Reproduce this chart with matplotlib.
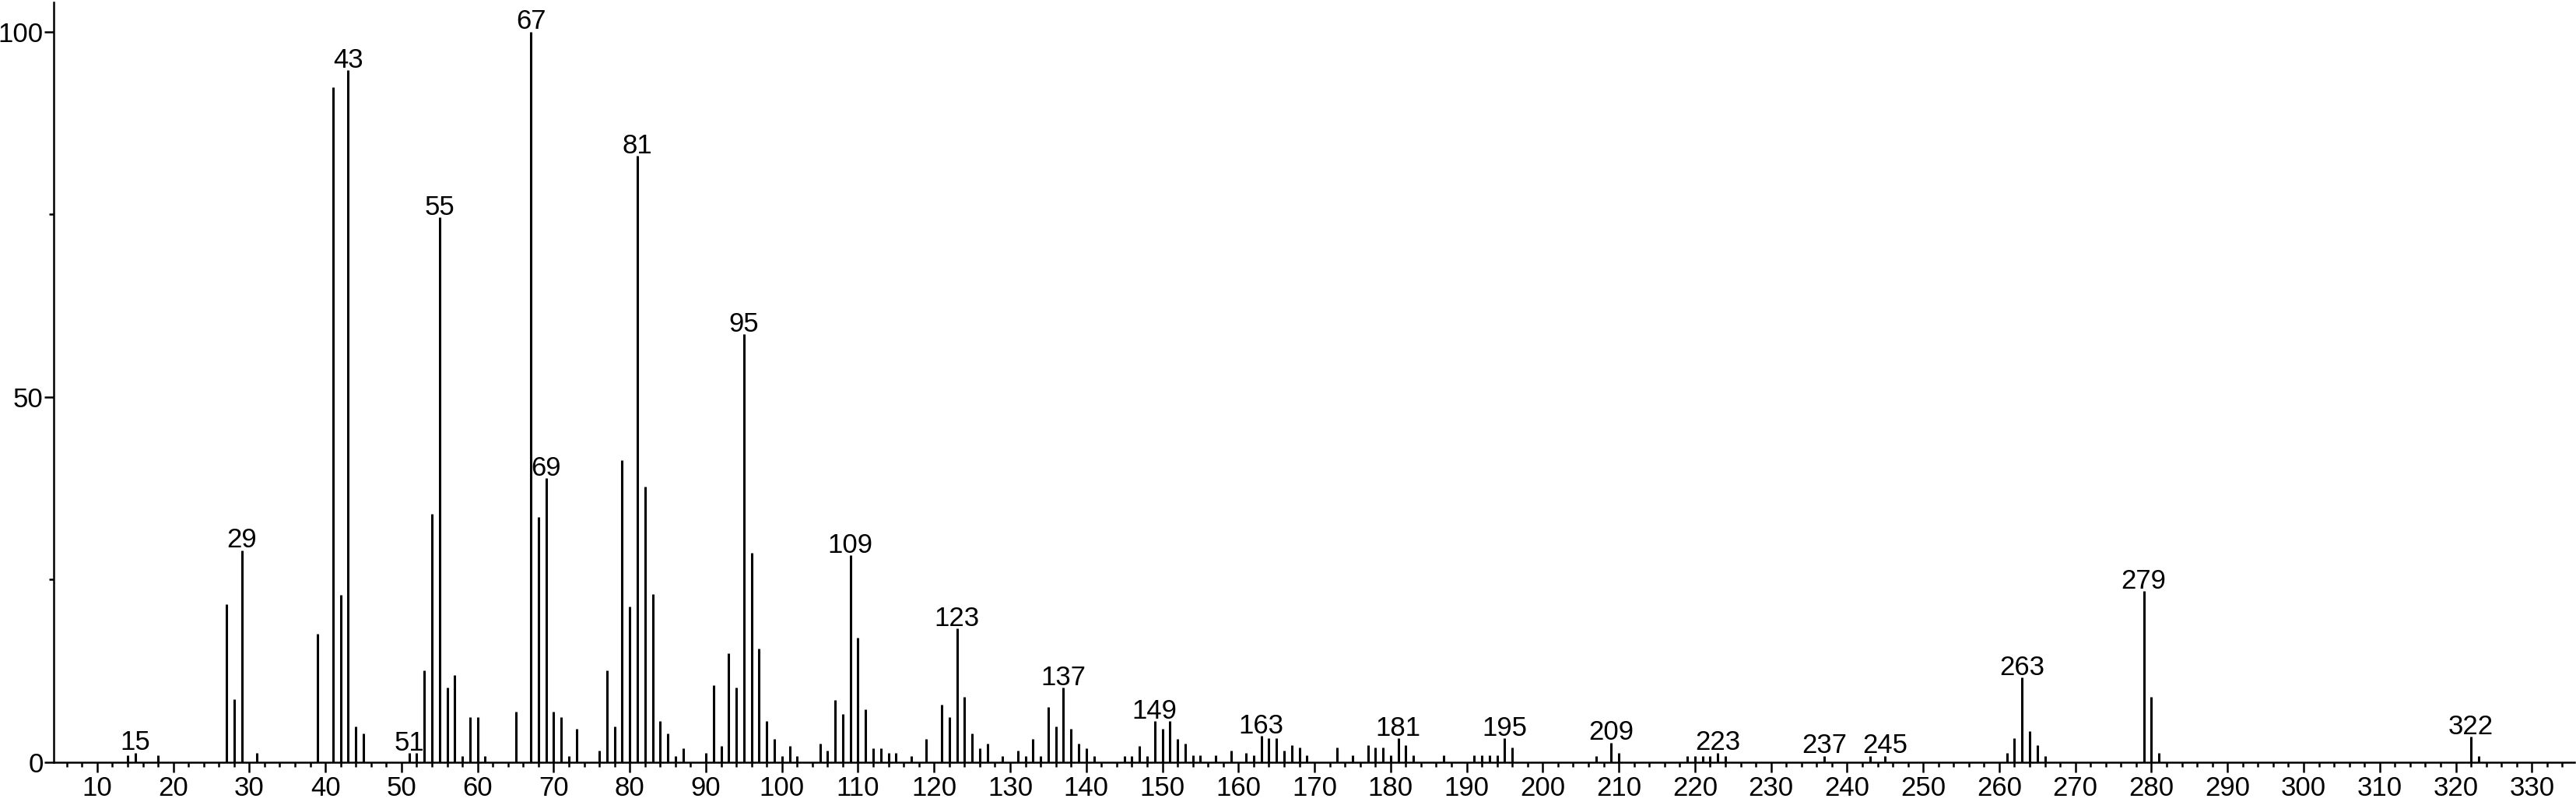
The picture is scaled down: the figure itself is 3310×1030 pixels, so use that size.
import matplotlib
matplotlib.use("Agg")
import matplotlib.pyplot as plt
from matplotlib.ticker import MultipleLocator, FixedLocator

plt.rcParams['font.family'] = ['Liberation Sans', 'DejaVu Sans']

mz = [14, 15, 18, 27, 28, 29, 31, 39, 41, 42, 43, 44, 45, 51, 52, 53, 54, 55, 56, 57,
      58, 59, 60, 61, 65, 67, 68, 69, 70, 71, 72, 73, 76, 77, 78, 79, 80, 81, 82, 83,
      84, 85, 86, 87, 90, 91, 92, 93, 94, 95, 96, 97, 98, 99, 100, 101, 102, 105, 106, 107,
      108, 109, 110, 111, 112, 113, 114, 115, 117, 119, 121, 122, 123, 124, 125, 126, 127, 129, 131, 132,
      133, 134, 135, 136, 137, 138, 139, 140, 141, 145, 146, 147, 148, 149, 150, 151, 152, 153, 154, 155,
      157, 159, 161, 162, 163, 164, 165, 166, 167, 168, 169, 173, 175, 177, 178, 179, 180, 181, 182, 183,
      187, 191, 192, 193, 194, 195, 196, 207, 209, 210, 219, 220, 221, 222, 223, 224, 237, 243, 245, 261,
      262, 263, 264, 265, 266, 279, 280, 281, 322, 323]
intensity = [1.0, 1.3, 1.0, 21.6, 8.6, 29.0, 1.3, 17.6, 92.4, 22.9, 94.7, 4.9, 3.9, 1.25, 1.25, 12.6, 34.0, 74.6, 10.2, 11.9,
             0.9, 6.2, 6.2, 0.9, 6.9, 100.0, 33.6, 38.9, 6.9, 6.2, 0.9, 4.6, 1.6, 12.6, 4.9, 41.3, 21.3, 83.0, 37.7, 23.0,
             5.6, 3.9, 0.9, 1.9, 1.25, 10.6, 2.2, 14.9, 10.2, 58.6, 28.7, 15.6, 5.6, 3.2, 0.9, 2.2, 0.9, 2.6, 1.6, 8.5,
             6.6, 28.3, 17.0, 7.2, 1.9, 1.9, 1.25, 1.25, 0.9, 3.2, 7.9, 6.2, 18.3, 8.9, 3.9, 1.9, 2.6, 0.9, 1.6, 0.9,
             3.2, 0.9, 7.6, 4.9, 10.2, 4.6, 2.6, 1.9, 0.9, 0.9, 0.9, 2.2, 0.9, 5.6, 4.6, 5.6, 3.2, 2.6, 1.0, 1.0,
             1.0, 1.6, 1.3, 1.0, 3.6, 3.3, 3.3, 1.6, 2.3, 2.0, 1.0, 2.0, 1.0, 2.3, 2.0, 2.0, 1.0, 3.3, 2.3, 1.0,
             1.0, 1.0, 1.0, 1.0, 1.0, 3.3, 2.0, 0.9, 2.7, 1.3, 0.9, 0.9, 0.9, 0.9, 1.3, 0.9, 0.9, 0.9, 0.9, 1.3,
             3.3, 11.6, 4.3, 2.3, 0.9, 23.4, 9.0, 1.3, 3.5, 0.9]
labeled_mz = [15, 29, 43, 51, 55, 67, 69, 81, 95, 109, 123, 137, 149, 163, 181, 195, 209, 223, 237, 245, 263, 279, 322]

x_ticks = list(range(10, 331, 10))
y_major = [0, 50, 100]
y_minor = [25, 75]

fig = plt.figure(figsize=(33.1, 10.3), dpi=100)
ax = fig.add_axes([0.0208, 0.0495, 0.9786, 0.9475])

ax.vlines(mz, 0, intensity, color='black', linewidth=2.2)

lookup = dict(zip(mz, intensity))
for m in labeled_mz:
    ax.annotate(str(m), xy=(m, lookup[m]), xytext=(0, 2.5), textcoords='offset points',
                ha='center', va='baseline', fontsize=25, color='black')

ax.set_xlim(4.27, 335.6)
ax.set_ylim(0, 104)

ax.xaxis.set_major_locator(FixedLocator(x_ticks))
ax.xaxis.set_minor_locator(MultipleLocator(2))
ax.yaxis.set_major_locator(FixedLocator(y_major))
ax.yaxis.set_minor_locator(FixedLocator(y_minor))

for s in ['top', 'right']:
    ax.spines[s].set_visible(False)
for s in ['left', 'bottom']:
    ax.spines[s].set_linewidth(1.8)

ax.tick_params(axis='x', which='major', length=9, width=1.8, labelsize=25, pad=3, direction='out')
ax.tick_params(axis='x', which='minor', length=4, width=1.8, direction='out')
ax.tick_params(axis='y', which='major', length=8.5, width=1.8, labelsize=25, pad=1, direction='out')
ax.tick_params(axis='y', which='minor', length=4, width=1.8, direction='out')

fig.savefig('out.png', dpi=100, facecolor='white')
